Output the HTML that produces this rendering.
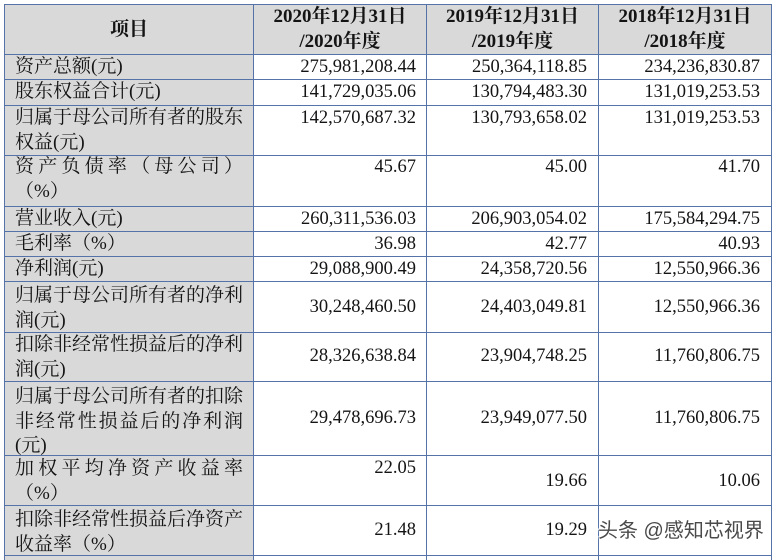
<!DOCTYPE html>
<html><head><meta charset="utf-8">
<style>
html,body{margin:0;padding:0;background:#fff;}
body{width:774px;height:560px;position:relative;overflow:hidden;font-family:"Liberation Serif","Noto Serif CJK SC",serif;color:#141414;}
.bg{position:absolute;background:#d9d9d9;}
.h{position:absolute;height:1px;background:#5573a9;left:4px;width:768px;}
.v{position:absolute;width:1px;background:#5573a9;top:4px;height:556px;}
.c1{position:absolute;left:15px;width:228px;font-size:19px;line-height:24.5px;}
.c1 div{white-space:nowrap;}
.j{text-align:justify;text-align-last:justify;}
.n{position:absolute;font-size:18.5px;line-height:24.5px;white-space:nowrap;text-align:right;width:160px;}
.a{right:358px;}
.b{right:187px;}
.c{right:14px;}
.hd{position:absolute;top:4px;height:50px;font-weight:bold;font-size:19px;line-height:25px;text-align:center;display:flex;flex-direction:column;justify-content:center;}
.wm{position:absolute;left:598px;top:518px;font-family:"Liberation Sans","Noto Sans CJK SC",sans-serif;font-size:20px;line-height:26px;color:#4a4a4a;white-space:nowrap;text-shadow:0 0 2px #fff,0 0 2px #fff,1px 1px 0 #fff,-1px -1px 0 #fff;}
</style></head><body>
<div class="bg" style="left:4px;top:4px;width:768px;height:50px;"></div>
<div class="bg" style="left:4px;top:54px;width:249px;height:506px;"></div>

<div class="h" style="top:4px"></div>
<div class="h" style="top:54px"></div>
<div class="h" style="top:79px"></div>
<div class="h" style="top:105px"></div>
<div class="h" style="top:155px"></div>
<div class="h" style="top:206px"></div>
<div class="h" style="top:231px"></div>
<div class="h" style="top:256px"></div>
<div class="h" style="top:281px"></div>
<div class="h" style="top:332px"></div>
<div class="h" style="top:381px"></div>
<div class="h" style="top:455px"></div>
<div class="h" style="top:505px"></div>
<div class="h" style="top:555px"></div>

<div class="v" style="left:4px"></div>
<div class="v" style="left:253px"></div>
<div class="v" style="left:426px"></div>
<div class="v" style="left:598px"></div>
<div class="v" style="left:771px"></div>

<div class="hd" style="left:5px;width:248px;">项目</div>
<div class="hd" style="left:254px;width:172px;"><div>2020年12月31日</div><div>/2020年度</div></div>
<div class="hd" style="left:427px;width:171px;"><div>2019年12月31日</div><div>/2019年度</div></div>
<div class="hd" style="left:599px;width:172px;"><div>2018年12月31日</div><div>/2018年度</div></div>

<div class="c1" style="top:55px"><div>资产总额(元)</div></div>
<div class="c1" style="top:80px"><div>股东权益合计(元)</div></div>
<div class="c1" style="top:106px"><div class="j">归属于母公司所有者的股东</div><div>权益(元)</div></div>
<div class="c1" style="top:155px"><div class="j">资产负债率（母公司）</div><div>（%）</div></div>
<div class="c1" style="top:207px"><div>营业收入(元)</div></div>
<div class="c1" style="top:232px"><div>毛利率（%）</div></div>
<div class="c1" style="top:257px"><div>净利润(元)</div></div>
<div class="c1" style="top:284px"><div class="j">归属于母公司所有者的净利</div><div>润(元)</div></div>
<div class="c1" style="top:333px"><div class="j">扣除非经常性损益后的净利</div><div>润(元)</div></div>
<div class="c1" style="top:385px"><div class="j">归属于母公司所有者的扣除</div><div class="j">非经常性损益后的净利润</div><div>(元)</div></div>
<div class="c1" style="top:457px"><div class="j">加权平均净资产收益率</div><div>（%）</div></div>
<div class="c1" style="top:508px"><div class="j">扣除非经常性损益后净资产</div><div>收益率（%）</div></div>

<div class="n a" style="top:55px">275,981,208.44</div>
<div class="n b" style="top:55px">250,364,118.85</div>
<div class="n c" style="top:55px">234,236,830.87</div>

<div class="n a" style="top:80px">141,729,035.06</div>
<div class="n b" style="top:80px">130,794,483.30</div>
<div class="n c" style="top:80px">131,019,253.53</div>

<div class="n a" style="top:106px">142,570,687.32</div>
<div class="n b" style="top:106px">130,793,658.02</div>
<div class="n c" style="top:106px">131,019,253.53</div>

<div class="n a" style="top:155px">45.67</div>
<div class="n b" style="top:155px">45.00</div>
<div class="n c" style="top:155px">41.70</div>

<div class="n a" style="top:207px">260,311,536.03</div>
<div class="n b" style="top:207px">206,903,054.02</div>
<div class="n c" style="top:207px">175,584,294.75</div>

<div class="n a" style="top:232px">36.98</div>
<div class="n b" style="top:232px">42.77</div>
<div class="n c" style="top:232px">40.93</div>

<div class="n a" style="top:257px">29,088,900.49</div>
<div class="n b" style="top:257px">24,358,720.56</div>
<div class="n c" style="top:257px">12,550,966.36</div>

<div class="n a" style="top:295px">30,248,460.50</div>
<div class="n b" style="top:295px">24,403,049.81</div>
<div class="n c" style="top:295px">12,550,966.36</div>

<div class="n a" style="top:344px">28,326,638.84</div>
<div class="n b" style="top:344px">23,904,748.25</div>
<div class="n c" style="top:344px">11,760,806.75</div>

<div class="n a" style="top:406px">29,478,696.73</div>
<div class="n b" style="top:406px">23,949,077.50</div>
<div class="n c" style="top:406px">11,760,806.75</div>

<div class="n a" style="top:456px">22.05</div>
<div class="n b" style="top:469px">19.66</div>
<div class="n c" style="top:469px">10.06</div>

<div class="n a" style="top:518px">21.48</div>
<div class="n b" style="top:518px">19.29</div>

<div class="wm">头条 @感知芯视界</div>
</body></html>
